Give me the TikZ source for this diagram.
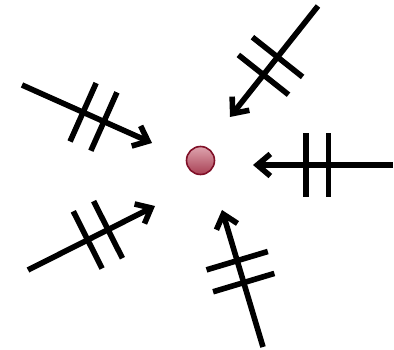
\documentclass[tikz,border=0pt]{standalone}
\usepackage{tikz}
\usetikzlibrary{arrows.meta}
\definecolor{balldark}{RGB}{128,16,40}
\definecolor{balltop}{RGB}{222,164,174}
\definecolor{ballbot}{RGB}{168,64,84}
\tikzset{
  pnode/.style={circle,draw=balldark,line width=1.6pt,minimum size=28pt,inner sep=0pt,top color=balltop,bottom color=ballbot},
  fe/.style={-{Straight Barb[length=13pt,width=22pt]},line width=5.6pt},
  tk/.style={rectangle,fill=black,minimum width=5.6pt,minimum height=64pt,inner sep=0pt,sloped}
}

\begin{document}
\begin{tikzpicture}[x=1pt,y=-1pt]
\useasboundingbox (0,0) rectangle (394,350);
% particle
\node[pnode] (P) at (200.5,160.5) {};
% arrow ends
\coordinate (S1) at (22,85);   \coordinate (T1) at (152,143);
\coordinate (S2) at (318,6);   \coordinate (T2) at (230,117);
\coordinate (S3) at (393,165); \coordinate (T3) at (253,165);
\coordinate (S4) at (28,270);  \coordinate (T4) at (155,206);
\coordinate (S5) at (263,347); \coordinate (T5) at (222,210);
% forces with two ticks
\draw[fe] (S1) -- node[tk,pos=0.47]{} node[tk,pos=0.63]{} (T1);
\draw[fe] (S2) -- node[tk,pos=0.46]{} node[tk,pos=0.62]{} (T2);
\draw[fe] (S3) -- node[tk,pos=0.46]{} node[tk,pos=0.62]{} (T3);
\draw[fe] (S4) -- node[tk,pos=0.47]{} node[tk,pos=0.63]{} (T4);
\draw[fe] (S5) -- node[tk,pos=0.47]{} node[tk,pos=0.63]{} (T5);
\end{tikzpicture}
\end{document}
